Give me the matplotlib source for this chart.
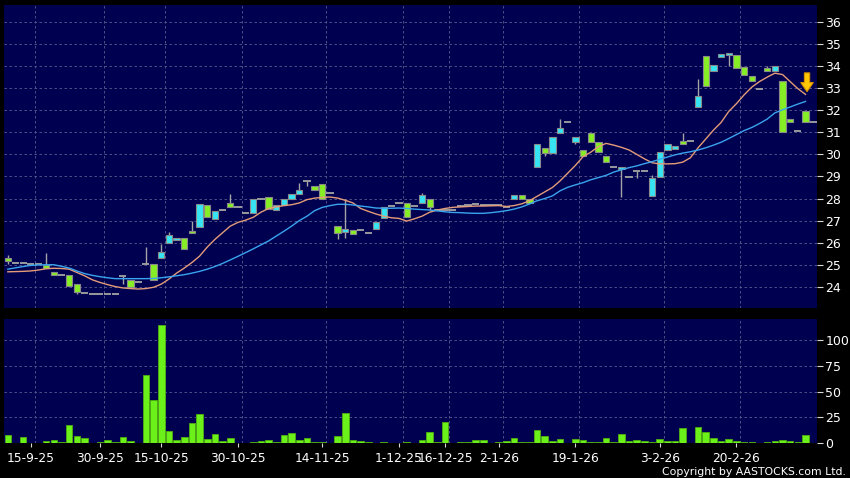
import matplotlib
matplotlib.use('Agg')
import matplotlib.pyplot as plt
import numpy as np

opens = [25.29, 25.07, 25.07, 25.04, 25.04, 25.00, 24.67, 24.52, 24.52, 24.11,
         23.72, 23.66, 23.66, 23.66, 23.66, 24.50, 24.30, 24.21, 25.02, 25.02,
         25.32, 25.97, 26.11, 26.20, 26.53, 26.73, 27.69, 27.06, 27.47, 27.79,
         27.62, 27.35, 27.33, 27.97, 28.09, 27.48, 27.71, 27.97, 28.19, 28.78,
         28.59, 28.65, 28.24, 26.77, 26.48, 26.57, 26.56, 26.45, 26.60, 27.10,
         27.68, 27.78, 27.79, 27.64, 27.82, 27.97, 27.50, 27.50, 27.50, 27.66,
         27.72, 27.75, 27.71, 27.71, 27.71, 27.60, 27.97, 28.16, 27.97, 29.44,
         30.28, 30.08, 30.96, 31.46, 30.54, 30.20, 30.96, 30.54, 29.94, 29.42,
         29.34, 28.96, 29.23, 29.23, 28.12, 28.96, 30.20, 30.25, 30.61, 30.62,
         32.13, 34.47, 33.78, 34.41, 34.50, 34.50, 33.95, 33.57, 32.96, 33.90,
         33.77, 33.33, 31.59, 31.08, 31.95, 31.47]
closes = [25.17, 25.07, 25.07, 25.04, 25.04, 24.84, 24.52, 24.52, 24.04, 23.78,
          23.72, 23.66, 23.66, 23.66, 23.66, 24.50, 23.98, 24.21, 25.02, 24.31,
          25.57, 26.34, 26.20, 25.70, 26.43, 27.74, 27.18, 27.45, 27.47, 27.62,
          27.62, 27.35, 27.97, 27.97, 27.53, 27.71, 27.97, 28.19, 28.37, 28.78,
          28.39, 27.97, 28.24, 26.43, 26.60, 26.39, 26.56, 26.45, 26.95, 27.60,
          27.68, 27.78, 27.17, 27.64, 28.14, 27.63, 27.50, 27.50, 27.50, 27.66,
          27.72, 27.75, 27.71, 27.71, 27.71, 27.60, 28.18, 27.97, 27.78, 30.46,
          30.08, 30.80, 31.18, 31.46, 30.77, 29.94, 30.54, 30.11, 29.64, 29.42,
          29.44, 28.96, 29.23, 29.23, 28.92, 30.10, 30.46, 30.40, 30.46, 30.62,
          32.64, 33.08, 34.05, 34.56, 34.58, 33.90, 33.60, 33.32, 32.96, 33.77,
          33.99, 31.02, 31.47, 31.08, 31.47, 31.47]
highs = [25.44, 25.07, 25.07, 25.04, 25.04, 25.55, 24.67, 24.52, 24.52, 24.11,
         23.72, 23.66, 23.66, 23.66, 23.66, 24.50, 24.30, 24.21, 25.82, 25.02,
         25.94, 26.48, 26.20, 26.20, 26.98, 27.74, 27.69, 27.45, 27.47, 28.21,
         27.62, 27.35, 27.97, 27.97, 28.09, 27.71, 27.97, 28.19, 28.69, 28.78,
         28.59, 28.65, 28.24, 26.77, 27.97, 26.57, 26.56, 26.45, 26.95, 27.60,
         27.68, 27.78, 27.79, 27.64, 28.23, 27.97, 27.50, 27.50, 27.50, 27.66,
         27.72, 27.75, 27.71, 27.71, 27.71, 27.60, 28.18, 28.16, 27.97, 30.46,
         30.28, 30.80, 31.60, 31.46, 30.77, 30.20, 30.96, 30.54, 29.94, 29.42,
         29.44, 28.96, 29.23, 29.23, 29.07, 30.10, 30.46, 30.40, 30.98, 30.62,
         33.41, 34.47, 34.05, 34.56, 34.58, 34.50, 33.95, 33.57, 32.96, 34.00,
         33.99, 33.33, 31.59, 31.08, 31.95, 31.47]
lows = [25.02, 25.07, 25.07, 25.04, 25.04, 24.84, 24.52, 24.52, 24.04, 23.68,
        23.72, 23.66, 23.66, 23.66, 23.66, 24.11, 23.98, 24.21, 25.02, 24.31,
        25.32, 25.97, 26.11, 25.70, 26.43, 26.73, 27.18, 27.06, 27.47, 27.62,
        27.62, 27.35, 27.33, 27.97, 27.53, 27.48, 27.71, 27.97, 28.19, 28.57,
        28.39, 27.97, 28.24, 26.18, 26.20, 26.39, 26.56, 26.45, 26.60, 27.10,
        27.68, 27.78, 27.17, 27.64, 27.82, 27.48, 27.50, 27.50, 27.50, 27.66,
        27.72, 27.75, 27.71, 27.71, 27.71, 27.60, 27.97, 27.97, 27.78, 29.44,
        29.94, 30.08, 30.96, 31.46, 30.46, 29.94, 30.54, 30.11, 29.64, 29.42,
        28.08, 28.96, 28.95, 29.23, 28.12, 28.96, 30.20, 30.25, 30.46, 30.62,
        32.13, 33.08, 33.78, 34.41, 33.99, 33.90, 33.60, 33.32, 32.96, 33.77,
        33.77, 31.02, 31.47, 31.08, 31.47, 31.47]
volume = [8, 0, 6.5, 0, 0, 2, 3, 1.3, 17.8, 6.8,
          4.9, 0, 1.3, 3.2, 1.3, 6.5, 2.3, 0, 66, 42,
          114.6, 12, 3.2, 6.1, 20, 28.8, 4.2, 9, 2.3, 5.2,
          0, 0, 1.3, 2.3, 3.2, 1.3, 8.1, 10, 3.2, 5.2,
          1.6, 1, 0, 7.4, 29, 3.2, 2.3, 1.3, 0, 1.6,
          0, 0, 1.6, 0, 3.2, 11, 1.3, 20.7, 0, 1,
          1, 2.9, 3.2, 0, 1, 2.6, 5.5, 0.8, 0.8, 12.6,
          7.4, 2.3, 3.9, 0, 3.9, 2.9, 1.6, 1.6, 4.9, 1,
          9.4, 1.9, 3.6, 1.9, 1.6, 3.9, 2.6, 2.3, 14.6, 0,
          15.9, 11, 5.2, 2.6, 3.9, 1.9, 1.6, 1.6, 0, 1.3,
          2.6, 3.2, 2.3, 1, 7.8, 0]

# moving averages
ma_short = [24.68, 24.69, 24.70, 24.72, 24.76, 24.82, 24.84, 24.83, 24.80, 24.65,
            24.50, 24.32, 24.20, 24.10, 24.01, 23.95, 23.92, 23.90, 23.92, 23.98,
            24.12, 24.35, 24.62, 24.85, 25.10, 25.39, 25.80, 26.15, 26.45, 26.75,
            26.92, 27.02, 27.15, 27.38, 27.55, 27.62, 27.68, 27.72, 27.80, 27.95,
            28.02, 28.05, 28.07, 28.02, 27.92, 27.80, 27.55, 27.42, 27.30, 27.20,
            27.13, 27.10, 26.98, 27.08, 27.20, 27.38, 27.48, 27.55, 27.60, 27.62,
            27.64, 27.66, 27.66, 27.67, 27.68, 27.64, 27.68, 27.76, 27.90, 28.10,
            28.30, 28.50, 28.80, 29.15, 29.50, 29.90, 30.10, 30.35, 30.50, 30.42,
            30.32, 30.20, 30.00, 29.80, 29.62, 29.57, 29.57, 29.58, 29.65, 29.85,
            30.30, 30.70, 31.10, 31.45, 31.95, 32.30, 32.70, 33.05, 33.30, 33.50,
            33.68, 33.62, 33.30, 32.98, 32.72]
ma_long = [24.80, 24.86, 24.92, 24.97, 24.99, 25.00, 25.00, 24.93, 24.85, 24.72,
           24.60, 24.52, 24.46, 24.41, 24.37, 24.37, 24.37, 24.37, 24.37, 24.38,
           24.41, 24.45, 24.50, 24.55, 24.62, 24.70, 24.80, 24.92, 25.06, 25.22,
           25.38, 25.55, 25.72, 25.90, 26.08, 26.30, 26.52, 26.75, 27.00, 27.20,
           27.45, 27.60, 27.68, 27.74, 27.74, 27.71, 27.66, 27.62, 27.57, 27.56,
           27.56, 27.57, 27.55, 27.52, 27.50, 27.48, 27.44, 27.40, 27.37, 27.36,
           27.34, 27.33, 27.33, 27.36, 27.40, 27.45, 27.52, 27.62, 27.75, 27.90,
           28.00, 28.12, 28.35, 28.51, 28.62, 28.72, 28.85, 28.95, 29.05, 29.20,
           29.30, 29.40, 29.48, 29.58, 29.67, 29.78, 29.88, 29.98, 30.06, 30.12,
           30.20, 30.30, 30.42, 30.55, 30.72, 30.90, 31.08, 31.22, 31.40, 31.60,
           31.88, 32.02, 32.15, 32.28, 32.40]

date_pos = [3, 12, 20, 30, 41, 51, 57, 64, 74, 85, 95]
date_labels = ['15-9-25', '30-9-25', '15-10-25', '30-10-25', '14-11-25', '1-12-25',
               '16-12-25', '2-1-26', '19-1-26', '3-2-26', '20-2-26']

navy = '#000050'
cyan = '#36e4f4'
lime = '#86ee24'
grey = '#a4a4a4'
gridc = '#5c5c90'

fig = plt.figure(figsize=(8.5, 4.78), dpi=100, facecolor='black')
ax = fig.add_axes([4/850, 170/478, 813/850, 303/478], facecolor=navy)
axv = fig.add_axes([4/850, 34.7/478, 813/850, 124.3/478], facecolor=navy, sharex=ax)

x = np.arange(len(opens))
o = np.array(opens); c = np.array(closes)
h = np.array(highs); l = np.array(lows)

ax.vlines(x, l, h, color=grey, lw=1, zorder=2)
up = c > o
dn = c < o
eq = c == o
ax.bar(x[up], (c - o)[up], bottom=o[up], width=0.82, color=cyan,
       edgecolor='#8a8a8a', linewidth=0.8, zorder=3)
ax.bar(x[dn], (o - c)[dn], bottom=c[dn], width=0.82, color=lime,
       edgecolor='#8a8a8a', linewidth=0.8, zorder=3)
ax.hlines(c[eq], x[eq] - 0.47, x[eq] + 0.47, color=grey, lw=1.3, zorder=3)

xm = np.arange(len(ma_short))
ax.plot(xm, ma_short, color='#e49c78', lw=1.0, zorder=4)
ax.plot(xm, ma_long, color='#3aa4ee', lw=1.0, zorder=4)

ax.annotate('', xy=(xm[-1] + 0.2, ma_short[-1]), xytext=(xm[-1] + 0.2, ma_short[-1] + 1.1),
            arrowprops=dict(arrowstyle='simple,head_width=0.9,head_length=0.65,tail_width=0.38',
                            fc='#ffc800', ec='#d89000', lw=0.8, mutation_scale=10), zorder=6)

ax.set_xlim(-0.5, 105.5)
ax.set_ylim(23.04, 36.77)
ax.set_yticks(range(24, 37))

axv.bar(x, volume, width=0.86, color='#6cf01a', edgecolor='#50b010', linewidth=0.6)
axv.set_ylim(0, 120.3)
axv.set_yticks([0, 25, 50, 75, 100])

for a in (ax, axv):
    for s in a.spines.values():
        s.set_visible(False)
    a.yaxis.tick_right()
    a.tick_params(axis='y', colors='#d8d8d8', labelcolor='white', labelsize=9,
                  length=4, width=0.8, pad=2, direction='out')
    a.set_xticks(np.array(date_pos) + 0.5, minor=True)
    a.grid(True, which='minor', axis='x', color=gridc, ls=(0, (3, 3)), lw=0.6)
    a.grid(True, which='major', axis='y', color=gridc, ls=(0, (3, 3)), lw=0.6)
    a.tick_params(axis='x', which='minor', length=0)
    a.set_axisbelow(True)

ax.set_xticks(date_pos)
ax.tick_params(axis='x', which='major', length=0, labelbottom=False)
axv.set_xticks(date_pos)
axv.set_xticklabels(date_labels)
axv.tick_params(axis='x', which='major', colors='#d8d8d8', labelcolor='white',
                labelsize=8.8, length=3, width=0.8, pad=3)

fig.text(0.995, 0.002, 'Copyright by AASTOCKS.com Ltd.', color='white', fontsize=7.8,
         ha='right', va='bottom')

fig.savefig('out.png', dpi=100, facecolor='black')
